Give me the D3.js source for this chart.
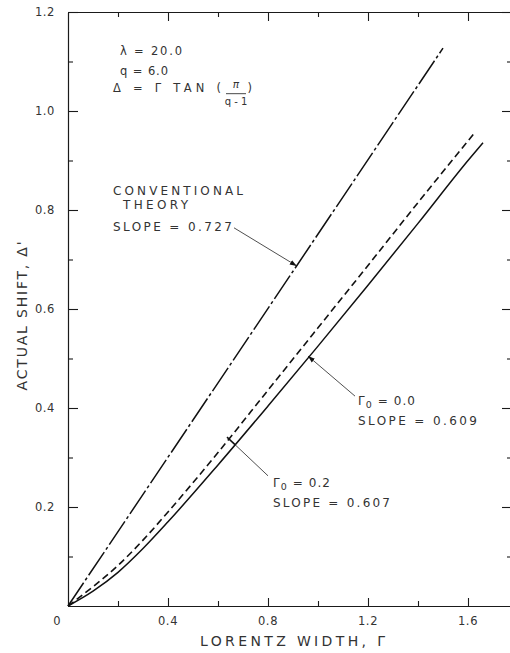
<!DOCTYPE html>
<html>
<script src="https://d3js.org/d3.v7.min.js"></script>

<head>
    <style>
        body {
            margin: 0;
            background-color: #ffffff;
        }

        svg {
            display: block;
            font-family: "DejaVu Sans", sans-serif;
        }

        text {
            fill: #333333;
        }

        .axis .domain,
        .axis line {
            stroke: #1a1a1a;
            stroke-width: 1.1;
        }
    </style>
</head>

<body>
</body>
<script>
    const width = 510,
        height = 653;

    // conventional theory (dash-dot)
    const convGamma = [0, 1.5];
    const convShift = [0, 1.127];
    // Gamma0 = 0.0 (solid)
    const g00Gamma = [0, 0.1, 0.2, 0.3, 0.4, 0.6, 0.8, 1.0, 1.2, 1.4, 1.6, 1.66];
    const g00Shift = [0, 0.03, 0.068, 0.116, 0.17, 0.285, 0.404, 0.525, 0.648, 0.773, 0.90, 0.936];
    // Gamma0 = 0.2 (dashed)
    const g02Gamma = [0, 0.1, 0.2, 0.3, 0.4, 0.6, 0.8, 1.0, 1.2, 1.4, 1.63];
    const g02Shift = [0, 0.039, 0.082, 0.133, 0.19, 0.31, 0.436, 0.562, 0.688, 0.815, 0.958];

    const xMajor = [0.4, 0.8, 1.2, 1.6];
    const xMinor = [0.2, 0.6, 1.0, 1.4];
    const yMajor = [0.2, 0.4, 0.6, 0.8, 1.0, 1.2];
    const yMinor = [0.1, 0.3, 0.5, 0.7, 0.9, 1.1];

    const svg = d3.select("body").append("svg").attr("width", width).attr("height", height);

    const x = d3.scaleLinear().domain([0, 1.78]).range([68, 513]);
    const y = d3.scaleLinear().domain([0, 1.2]).range([606, 12]);

    const toPts = (gs, ds) => gs.map((g, i) => [g, ds[i]]);
    const line = d3.line().x(d => x(d[0])).y(d => y(d[1])).curve(d3.curveMonotoneX);

    // frame + ticks (all pointing inward)
    function addAxis(axis, tx, ty, vals, size) {
        svg.append("g")
            .attr("class", "axis")
            .attr("transform", `translate(${tx},${ty})`)
            .call(axis.tickValues(vals).tickSize(-size).tickSizeOuter(0).tickFormat(""));
    }
    addAxis(d3.axisLeft(y), x(0), 0, yMajor, 10);
    addAxis(d3.axisLeft(y), x(0), 0, yMinor, 5);
    addAxis(d3.axisRight(y), x(1.78), 0, yMajor, 11);
    addAxis(d3.axisRight(y), x(1.78), 0, yMinor, 6);
    addAxis(d3.axisBottom(x), 0, y(0), xMajor, 8);
    addAxis(d3.axisBottom(x), 0, y(0), xMinor, 5);
    addAxis(d3.axisTop(x), 0, y(1.2), xMajor, 9);
    addAxis(d3.axisTop(x), 0, y(1.2), xMinor, 5);

    // tick labels
    yMajor.forEach(v => {
        svg.append("text")
            .attr("x", x(0) - 13)
            .attr("y", y(v))
            .attr("dy", "0.36em")
            .attr("text-anchor", "end")
            .attr("font-size", 11.5)
            .attr("letter-spacing", 0.6)
            .text(d3.format(".1f")(v));
    });
    xMajor.forEach(v => {
        svg.append("text")
            .attr("x", x(v))
            .attr("y", y(0) + 19)
            .attr("text-anchor", "middle")
            .attr("font-size", 11.5)
            .attr("letter-spacing", 0.6)
            .text(d3.format(".1f")(v));
    });
    svg.append("text")
        .attr("x", x(0) - 11)
        .attr("y", y(0) + 19)
        .attr("text-anchor", "middle")
        .attr("font-size", 11.5)
        .text("0");

    // axis titles
    svg.append("text")
        .attr("x", 200)
        .attr("y", 646)
        .attr("font-size", 14)
        .attr("textLength", 185)
        .attr("lengthAdjust", "spacing")
        .text("LORENTZ  WIDTH, Γ");
    svg.append("text")
        .attr("transform", "translate(27,315) rotate(-90)")
        .attr("text-anchor", "middle")
        .attr("font-size", 14)
        .attr("letter-spacing", 1.8)
        .text("ACTUAL  SHIFT, Δ'");

    // curves
    svg.append("path")
        .attr("d", line(toPts(convGamma, convShift)))
        .attr("fill", "none")
        .attr("stroke", "#111")
        .attr("stroke-width", 1.5)
        .attr("stroke-dasharray", "28,3,3,3");
    svg.append("path")
        .attr("d", line(toPts(g02Gamma, g02Shift)))
        .attr("fill", "none")
        .attr("stroke", "#111")
        .attr("stroke-width", 1.6)
        .attr("stroke-dasharray", "7,4");
    svg.append("path")
        .attr("d", line(toPts(g00Gamma, g00Shift)))
        .attr("fill", "none")
        .attr("stroke", "#111")
        .attr("stroke-width", 1.5);

    // arrowhead
    svg.append("defs").append("marker")
        .attr("id", "arrow")
        .attr("viewBox", "0 0 10 10")
        .attr("refX", 10)
        .attr("refY", 5)
        .attr("markerWidth", 7)
        .attr("markerHeight", 7)
        .attr("markerUnits", "userSpaceOnUse")
        .attr("orient", "auto")
        .append("path")
        .attr("d", "M0,1.5L10,5L0,8.5Z")
        .attr("fill", "#111");

    function leader(from, to, arrow) {
        const l = svg.append("line")
            .attr("x1", x(from[0])).attr("y1", y(from[1]))
            .attr("x2", x(to[0])).attr("y2", y(to[1]))
            .attr("stroke", "#222")
            .attr("stroke-width", 0.8);
        if (arrow) l.attr("marker-end", "url(#arrow)");
    }
    leader([0.664, 0.764], [0.915, 0.687], true);
    leader([1.148, 0.424], [0.96, 0.505], true);
    leader([0.8, 0.263], [0.668, 0.326], false);
    // small bar between the dashed and solid curves
    svg.append("line")
        .attr("x1", x(0.636)).attr("y1", y(0.341))
        .attr("x2", x(0.668)).attr("y2", y(0.326))
        .attr("stroke", "#111")
        .attr("stroke-width", 1.6);

    // notes
    function note(px, py, str, len, size) {
        const t = svg.append("text")
            .attr("x", x(px))
            .attr("y", y(py))
            .attr("font-size", size || 12);
        if (len) t.attr("textLength", len).attr("lengthAdjust", "spacing");
        return t.text(str);
    }
    note(0.208, 1.113, "λ = 20.0", 62, 11.5);
    note(0.208, 1.073, "q = 6.0", 48, 11.5);
    note(0.18, 1.038, "Δ = Γ TAN (", 108, 11.5);
    note(0.672, 1.047, "π", null, 10.5).attr("text-anchor", "middle").attr("font-style", "italic");
    svg.append("line")
        .attr("x1", x(0.632)).attr("x2", x(0.712))
        .attr("y1", y(1.035)).attr("y2", y(1.035))
        .attr("stroke", "#333").attr("stroke-width", 0.9);
    note(0.672, 1.012, "q - 1", null, 10).attr("text-anchor", "middle");
    note(0.718, 1.038, ")", null, 11.5);

    note(0.18, 0.830, "CONVENTIONAL", 130);
    note(0.22, 0.802, "THEORY", 65);
    note(0.18, 0.758, "SLOPE = 0.727", 119);

    function gammaNote(px, py, val) {
        const t = note(px, py, "", 57);
        t.append("tspan").text("Γ");
        t.append("tspan").attr("dy", 3).attr("font-size", 9.5).text("0");
        t.append("tspan").attr("dy", -3).text(" = " + val);
    }
    gammaNote(1.16, 0.406, "0.0");
    note(1.16, 0.366, "SLOPE = 0.609", 119);
    gammaNote(0.82, 0.240, "0.2");
    note(0.82, 0.200, "SLOPE = 0.607", 117);
</script>

</html>
